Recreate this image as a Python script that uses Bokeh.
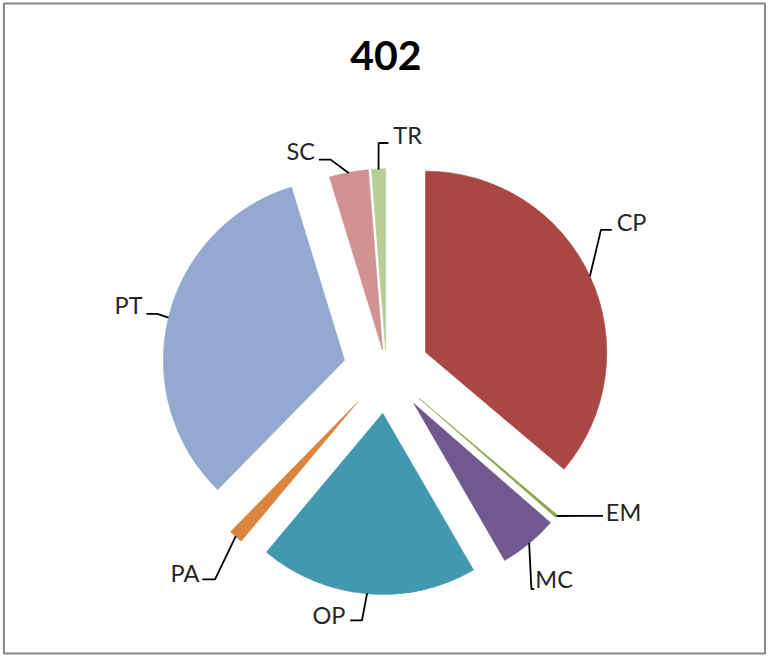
import math
from bokeh.plotting import figure
from bokeh.models import ColumnDataSource, Range1d
from bokeh.core.properties import value
from bokeh.embed import file_html
from bokeh.resources import INLINE

# ---------------- data ----------------
title_text = "402"
categories = ["CP", "EM", "MC", "OP", "PA", "PT", "SC", "TR"]
counts = [145, 1, 21, 78, 5, 132, 14, 5]

# ---------------- style / layout ----------------
colors = ["#AA4643", "#89A54E", "#71588F", "#4198AF", "#DB843D", "#93A9CF", "#D19392", "#B9CD96"]
explode = [44, 44, 44, 44, 44, 44, 21, 21]      # offset of each slice (chart units)
W, H = 767, 655                                   # figure size in px
CW, CH = 783.0, 671.0                             # chart coordinate space
CX, CY = 394.0, 379.0                             # pie centre
R = 185.0                                         # pie radius
# label layout: elbow, end of leader line, text anchor, alignment
label_layout = {
    "CP": ((613, 235), (624, 235), (629, 226.5), "left"),
    "EM": ((595, 528), (615, 528), (618, 524), "left"),
    "MC": ((542, 603), (545, 603), (546, 593), "left"),
    "OP": ((369, 635), (357, 635), (352, 629), "right"),
    "PA": ((219, 593), (206, 593), (203, 586), "right"),
    "PT": ((160, 321), (149, 321), (145, 312), "right"),
    "SC": ((337, 163), (325, 163), (321, 154.5), "right"),
    "TR": ((386, 146), (396, 146), (401, 138), "left"),
}

total = float(sum(counts))

# chart coords: x = chart x, y = -chart y (y grows downward in the chart space)
p = figure(width=W, height=H, output_backend="svg", toolbar_location=None, tools="",
           x_range=Range1d(0, CW), y_range=Range1d(-CH, 0),
           min_border=0)
p.axis.visible = False
p.xgrid.visible = False
p.ygrid.visible = False
p.background_fill_color = "white"
p.border_fill_color = "white"
p.outline_line_color = None

# chart-area border
p.quad(left=[3.5], right=[780.5], top=[-3.0], bottom=[-669.0],
       fill_color=None, line_color="#868686", line_width=2)

xs, ys, starts, ends = [], [], [], []
lead_xs, lead_ys = [], []
txt_l = dict(x=[], y=[], t=[])
txt_r = dict(x=[], y=[], t=[])
cum = 0.0
for cat, c, d in zip(categories, counts, explode):
    t1 = cum / total * 360.0
    t2 = (cum + c) / total * 360.0
    cum += c
    mid = math.radians((t1 + t2) / 2.0)
    ax = CX + d * math.sin(mid)
    ay = -CY + d * math.cos(mid)
    xs.append(ax)
    ys.append(ay)
    starts.append(math.radians(90.0 - t1))
    ends.append(math.radians(90.0 - t2))
    # leader line from outer arc midpoint
    sx = ax + R * math.sin(mid)
    sy = ay + R * math.cos(mid)
    (ex1, ey1), (ex2, ey2), (tx, ty), al = label_layout[cat]
    lead_xs.append([sx, ex1, ex2])
    lead_ys.append([sy, -ey1, -ey2])
    dst = txt_l if al == "left" else txt_r
    dst["x"].append(tx)
    dst["y"].append(-ty)
    dst["t"].append(cat)

src = ColumnDataSource(dict(x=xs, y=ys, s=starts, e=ends, color=colors, cat=categories))
p.wedge(x="x", y="y", radius=R, start_angle="s", end_angle="e",
        direction="clock", fill_color="color", line_color="color", line_width=0.6,
        source=src)

p.multi_line(xs=lead_xs, ys=lead_ys, line_color="#000000", line_width=1.8)

p.text(x="x", y="y", text="t", source=ColumnDataSource(txt_l),
       text_font=value("Lato"), text_font_size="23.5px", text_color="#262626",
       text_align="left", text_baseline="middle")
p.text(x="x", y="y", text="t", source=ColumnDataSource(txt_r),
       text_font=value("Lato"), text_font_size="23.5px", text_color="#262626",
       text_align="right", text_baseline="middle")

p.text(x=[393.5], y=[-56], text=[title_text], text_font=value("Lato"),
       text_font_size="41px", text_font_style="bold", text_color="#000000",
       text_align="center", text_baseline="middle")

open("out.html", "w").write(file_html(p, INLINE))
